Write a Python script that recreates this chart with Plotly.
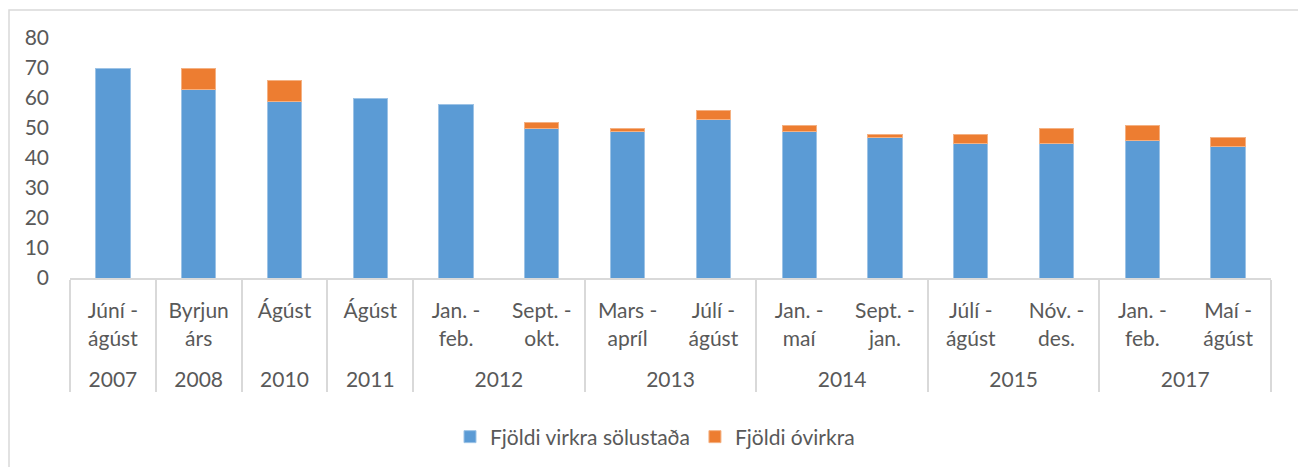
import plotly.graph_objects as go

years = ["2007", "2008", "2010", "2011", "2012", "2012", "2013", "2013",
         "2014", "2014", "2015", "2015", "2017", "2017"]
periods = ["Júní -<br>ágúst", "Byrjun<br>árs", "Ágúst<br>\u00a0", "Ágúst<br>\u00a0",
           "Jan. -<br>feb.", "Sept. -<br>okt.", "Mars -<br>apríl", "Júlí -<br>ágúst",
           "Jan. -<br>maí", "Sept. -<br>jan.", "Júlí -<br>ágúst", "Nóv. -<br>des.",
           "Jan. -<br>feb.", "Maí -<br>ágúst"]
virkir = [70, 63, 59, 60, 58, 50, 49, 53, 49, 47, 45, 45, 46, 44]
ovirkir = [0, 7, 7, 0, 0, 2, 1, 3, 2, 1, 3, 5, 5, 3]

# page has an 8px body margin; size the figure so it ends at the window edge
W, H = 1298, 459
L, R, T, B = 62, 35, 30, 189
pw, ph = W - L - R, H - T - B
FS = 21
COL = "#595959"

inner = [p + "<br>\u00a0" for p in periods]
ovirkir_drawn = [v if v else None for v in ovirkir]

fig = go.Figure()
fig.add_trace(go.Bar(x=[years, inner], y=virkir, name="Fjöldi virkra sölustaða",
                     marker=dict(color="#5b9bd5", line=dict(color="#9dc3e6", width=1))))
fig.add_trace(go.Bar(x=[years, inner], y=ovirkir_drawn, name="Fjöldi óvirkra",
                     marker=dict(color="#ed7d31", line=dict(color="#f4b183", width=1))))

fig.update_layout(
    barmode="stack", bargap=0.6,
    width=W, height=H, autosize=False,
    margin=dict(l=L, r=R, t=T, b=B, autoexpand=False),
    paper_bgcolor="white", plot_bgcolor="white",
    font=dict(family="Lato, 'Open Sans', sans-serif", size=FS, color=COL),
    showlegend=True,
    legend=dict(orientation="h", x=(647 - L) / pw, xanchor="center",
                y=(T + ph - 429) / ph, yanchor="middle",
                font=dict(size=FS, color=COL), traceorder="normal"),
    xaxis=dict(type="multicategory", showline=True, linecolor="#d9d9d9", linewidth=2,
               showdividers=True, dividercolor="#d9d9d9", dividerwidth=2,
               tickfont=dict(size=FS, color=COL), showgrid=False, ticks="",
               ticklabelstandoff=13),
    yaxis=dict(range=[0, 80], dtick=10, showgrid=False, zeroline=False, showline=False,
               tickfont=dict(size=FS, color=COL), ticklabelstandoff=20),
    shapes=[dict(type="rect", xref="paper", yref="paper",
                 x0=(1 - L) / pw, x1=(1293 - L) / pw,
                 y0=(T + ph - 480) / ph, y1=(T + ph - 2) / ph,
                 line=dict(color="#d9d9d9", width=1.5), fillcolor="rgba(0,0,0,0)")],
)

fig.write_html("out.html")
